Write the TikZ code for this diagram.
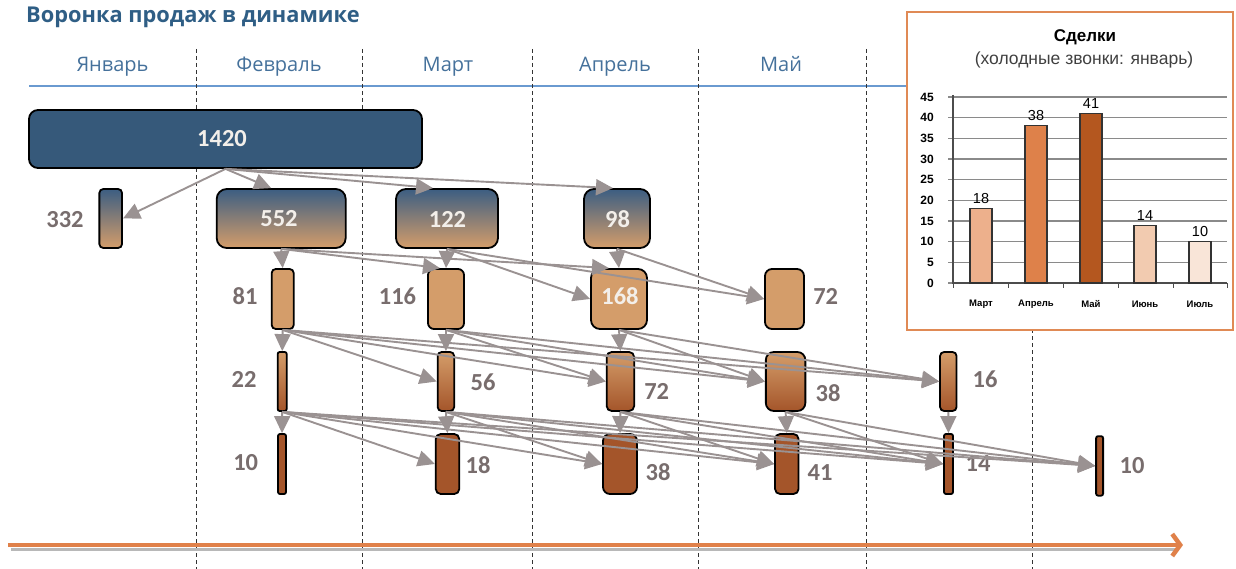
\documentclass[tikz,border=0pt]{standalone}
\usepackage{fontspec}
\setmainfont{Open Sans}
\newfontfamily\numfont{Carlito}
\newfontfamily\chartfont{Liberation Sans}
\usetikzlibrary{arrows.meta}
\definecolor{titleblue}{HTML}{2F5E85}
\definecolor{monthblue}{HTML}{45719B}
\definecolor{lineblue}{HTML}{6A9AD0}
\definecolor{darkblue}{HTML}{36597A}
\definecolor{topblue}{HTML}{3C5E82}
\definecolor{midmauve}{HTML}{9A8379}
\definecolor{tanfill}{HTML}{D49D6A}
\definecolor{brownfill}{HTML}{A4552A}
\definecolor{arrowgray}{HTML}{9A9292}
\definecolor{labelgray}{HTML}{786D6D}
\definecolor{inwhite}{HTML}{F3EFEA}
\definecolor{axisorange}{HTML}{E0814A}
\definecolor{boxorange}{HTML}{E08A55}
\definecolor{gridgray}{HTML}{8A8A8A}
\definecolor{barA}{HTML}{EDB08C}
\definecolor{barB}{HTML}{DE814A}
\definecolor{barC}{HTML}{B4571F}
\definecolor{barD}{HTML}{F2CBB0}
\definecolor{barE}{HTML}{F9E5D8}
\tikzset{
  box/.style={draw=black, line width=1.8pt, rounded corners=#1, inner sep=0pt, anchor=center},
  box/.default=8pt,
  blockA/.style={box=9pt, fill=darkblue},
  blockB/.style={box=#1, top color=topblue, middle color=midmauve, bottom color=tanfill},
  blockB/.default=8pt,
  blockC/.style={box=#1, fill=tanfill},
  blockC/.default=7pt,
  blockD/.style={box=#1, top color=tanfill, bottom color=brownfill},
  blockD/.default=6pt,
  blockE/.style={box=#1, fill=brownfill},
  blockE/.default=6pt,
  innum/.style={font=\numfont\bfseries\fontsize{24.5}{28}\selectfont, text=inwhite},
  lbl/.style={font=\numfont\bfseries\fontsize{24.5}{28}\selectfont, text=labelgray, inner sep=0pt},
  month/.style={font=\fontsize{20}{24}\selectfont, text=monthblue, anchor=base},
  conn/.style={draw=arrowgray, line width=1.9pt, -{Triangle[length=17pt,width=16pt]}},
  sep/.style={draw=black!80, line width=0.9pt, dash pattern=on 4pt off 3pt},
  ctick/.style={font=\chartfont\bfseries\fontsize{12}{14}\selectfont, anchor=east, inner sep=0pt},
  cval/.style={font=\chartfont\fontsize{14.5}{17}\selectfont, anchor=base, inner sep=0pt},
  ccat/.style={font=\chartfont\bfseries\fontsize{9.5}{11}\selectfont, anchor=center, inner sep=0pt},
  bar/.style={draw=black!80, line width=1.1pt}
}
\begin{document}
\begin{tikzpicture}[x=1pt,y=-1pt]
\useasboundingbox (0,0) rectangle (1236,569);
% title
\node[anchor=base west, inner sep=0pt, font=\bfseries\fontsize{21.8}{26}\selectfont, text=titleblue] (title) at (26,23) {Воронка продаж в динамике};
% month labels
\node[month] (mJan) at (112.5,72) {Январь};
\node[month] (mFeb) at (279,72) {Февраль};
\node[month] (mMar) at (448,72) {Март};
\node[month] (mApr) at (615,72) {Апрель};
\node[month] (mMay) at (781,72) {Май};
\draw[lineblue, line width=1.6pt] (29,86) -- (907,86);
% separators
\foreach \x in {196,362,532,698,866,1032} \draw[sep] (\x,49) -- (\x,569);
% time axis
\draw[black!28, line width=3.5pt] (11,549.5) -- (1178,549.5);
\coordinate (axL) at (8,545);
\coordinate (axR) at (1183,545);
\draw[axisorange, line width=4.5pt, -{Straight Barb[length=8pt,width=22pt]}] (axL) -- (axR);
% row 0
\node[blockA, minimum width=393pt, minimum height=58pt] (a1420) at (225.5,139) {};
\node[innum] (t1420) at (222,139) {1420};
% row 1
\node[blockB=4pt, minimum width=22.7pt, minimum height=59pt] (b332) at (110.7,218.5) {};
\node[blockB=10pt, minimum width=129pt, minimum height=59pt] (b552) at (281.2,218.5) {};
\node[blockB=10pt, minimum width=102pt, minimum height=59pt] (b122) at (447,218.5) {};
\node[blockB=10pt, minimum width=66pt, minimum height=59pt] (b98) at (617,218.5) {};
\node[innum] (t552) at (279,219) {552};
\node[innum] (t122) at (447.5,219) {122};
\node[innum] (t98) at (617.5,219) {98};
\node[lbl] (l332) at (65,219.5) {332};
% row 2
\node[blockC=4pt, minimum width=22pt, minimum height=60pt] (c81) at (282.7,299) {};
\node[blockC=6pt, minimum width=36pt, minimum height=60pt] (c116) at (446,299) {};
\node[blockC=9pt, minimum width=56pt, minimum height=60pt] (c168) at (619,299) {};
\node[blockC=7pt, minimum width=39pt, minimum height=60pt] (c72) at (784.5,299) {};
\node[innum] (t168) at (620,296.5) {168};
\node[lbl] (l81) at (245,296.5) {81};
\node[lbl] (l116) at (397.5,296.5) {116};
\node[lbl] (l72a) at (825.7,296.5) {72};
% row 3
\node[blockD=2pt, minimum width=9pt, minimum height=59pt] (d22) at (282.2,381.5) {};
\node[blockD=4pt, minimum width=16.5pt, minimum height=59pt] (d56) at (445.9,381.5) {};
\node[blockD=5pt, minimum width=27.5pt, minimum height=59pt] (d72) at (620.4,381.5) {};
\node[blockD=8pt, minimum width=39.5pt, minimum height=59pt] (d38) at (785.6,381.5) {};
\node[blockD=4pt, minimum width=16.5pt, minimum height=59pt] (d16) at (948.3,381.5) {};
\node[lbl] (l22) at (244,379) {22};
\node[lbl] (l56) at (483,382.5) {56};
\node[lbl] (l72b) at (656.7,391) {72};
\node[lbl] (l38a) at (828,393) {38};
\node[lbl] (l16) at (985,379) {16};
% row 4
\node[blockE=2pt, minimum width=8pt, minimum height=60pt] (e10) at (282,464) {};
\node[blockE=5pt, minimum width=23.5pt, minimum height=60pt] (e18) at (447.5,464) {};
\node[blockE=7pt, minimum width=34pt, minimum height=60pt] (e38) at (620,464) {};
\node[blockE=5pt, minimum width=23.5pt, minimum height=60pt] (e41) at (786.8,464) {};
\node[blockE=2pt, minimum width=9pt, minimum height=60pt] (e14) at (948.5,464) {};
\node[blockE=2pt, minimum width=7pt, minimum height=59.5pt] (e10j) at (1099.6,465.9) {};
\node[lbl] (l10a) at (245.7,462.5) {10};
\node[lbl] (l18) at (478,465) {18};
\node[lbl] (l38b) at (658,472.5) {38};
\node[lbl] (l41) at (820,472.5) {41};
\node[lbl] (l14) at (978,464) {14};
\node[lbl] (l10b) at (1132,466) {10};
% connectors
\draw[conn] (a1420.south) -- (b332.east);
\draw[conn] (a1420.south) -- ([xshift=-10pt]b552.north);
\draw[conn] (a1420.south) -- ([xshift=-14pt]b122.north);
\draw[conn] (a1420.south) -- ([xshift=-4pt]b98.north);
\draw[conn] (b552.south) -- (c81.north);
\draw[conn] (b552.south) -- ([xshift=-6pt]c116.north);
\draw[conn] (b552.south) -- ([xshift=-10pt]c168.north);
\draw[conn] (b122.south) -- (c116.north);
\draw[conn] (b122.south) -- (c168.west);
\draw[conn] (b122.south) -- (c72.west);
\draw[conn] (b98.south) -- (c168.north);
\draw[conn] (b98.south) -- (c72.west);
\foreach \t in {d56,d72,d38,d16} \draw[conn] (c81.south) -- (\t.west);
\draw[conn] (c81.south) -- (d22.north);
\foreach \t in {d72,d38,d16} \draw[conn] (c116.south) -- (\t.west);
\draw[conn] (c116.south) -- (d56.north);
\foreach \t in {d38,d16} \draw[conn] (c168.south) -- (\t.west);
\draw[conn] (c168.south) -- (d72.north);
\foreach \t in {e18,e38,e41,e14,e10j} \draw[conn] (d22.south) -- (\t.west);
\draw[conn] (d22.south) -- (e10.north);
\foreach \t in {e38,e41,e14,e10j} \draw[conn] (d56.south) -- (\t.west);
\draw[conn] (d56.south) -- (e18.north);
\foreach \t in {e41,e14,e10j} \draw[conn] (d72.south) -- (\t.west);
\draw[conn] (d72.south) -- (e38.north);
\foreach \t in {e14,e10j} \draw[conn] (d38.south) -- (\t.west);
\draw[conn] (d38.south) -- (e41.north);
\draw[conn] (d16.south) -- (e14.north);
% inset chart
\draw[fill=white, draw=boxorange, line width=2.2pt] (907,12) rectangle (1233,330);
\node[font=\chartfont\bfseries\fontsize{17}{20}\selectfont, anchor=center] (ctitle) at (1085,37) {Сделки};
\node[font=\chartfont\fontsize{17.5}{20}\selectfont, text=black!75, anchor=center] (csub) at (1084,60) {(холодные звонки: январь)};
\foreach \v in {0,5,...,45} {
  \draw[gridgray, line width=1.3pt] (948,{283-\v*4.1333}) -- (1227,{283-\v*4.1333});
  \node[ctick] at (934,{283-\v*4.1333}) {\v};
}
\draw[black!70, line width=1.3pt] (953,95) -- (953,283) -- (1227,283);
\foreach \x in {953,1008,1063,1118,1173,1227} \draw[black!70, line width=1pt] (\x,283) -- (\x,288);
\foreach \xa/\v/\c/\n in {970/18/barA/Март, 1025/38/barB/Апрель, 1080/41/barC/Май, 1134/14/barD/Июнь, 1189/10/barE/Июль} {
  \draw[bar, fill=\c] (\xa,283) rectangle (\xa+22,{283-\v*4.1333});
  \node[cval] at (\xa+11,{283-\v*4.1333-5}) {\v};
  \node[ccat] at (\xa+11,304) {\n};
}
\end{tikzpicture}
\end{document}
